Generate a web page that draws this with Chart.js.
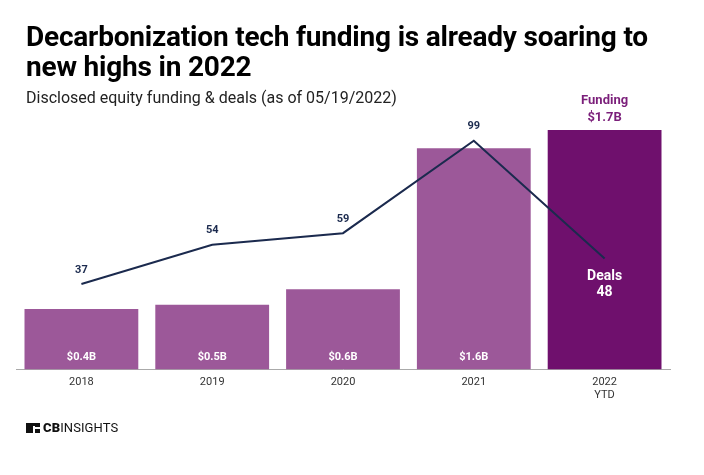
<!DOCTYPE html>
<html>
<head>
<meta charset="utf-8">
<script src="https://cdn.jsdelivr.net/npm/chart.js@4.4.1/dist/chart.umd.min.js"></script>
<style>
  html, body { margin: 0; padding: 0; background: #fff; }
  #wrap { position: relative; width: 704px; height: 475px; overflow: hidden; font-family: Roboto, "Noto Sans", sans-serif; }
  #c { position: absolute; left: 0; top: 0; }
  .title { position: absolute; left: 26px; top: 22px; font-size: 28px; font-weight: 700; color: #000; line-height: 30px; letter-spacing: -0.2px; }
  .sub { position: absolute; left: 26px; top: 88px; font-size: 16px; color: #222; }
  .logo { position: absolute; left: 26px; top: 421px; height: 13px; display: flex; align-items: center; }
  .icon { width: 14px; height: 10px; background: #111; position: relative; margin-right: 3px; }
  .icon:before { content: ""; position: absolute; left: 7px; top: 3px; width: 1.5px; height: 7px; background: #fff; }
  .icon:after { content: ""; position: absolute; left: 7px; top: 4.5px; width: 7px; height: 1.5px; background: #fff; }
  .logo span { font-size: 13px; color: #111; letter-spacing: 0.1px; }
</style>
</head>
<body>
<div id="wrap">
  <canvas id="c" width="704" height="475"></canvas>
  <div class="title">Decarbonization tech funding is already soaring to<br>new highs in 2022</div>
  <div class="sub">Disclosed equity funding &amp; deals (as of 05/19/2022)</div>
  <div class="logo"><div class="icon"></div><span style="font-weight:900">CB</span><span>INSIGHTS</span></div>
</div>
<script>
const categories = [["2018"], ["2019"], ["2020"], ["2021"], ["2022", "YTD"]];
const fundingValues = [0.43, 0.46, 0.57, 1.57, 1.70];   // $B
const fundingLabels = ["$0.4B", "$0.5B", "$0.6B", "$1.6B", "$1.7B"];
const dealValues = [37, 54, 59, 99, 48];
const barColors = ["#9c5899", "#9c5899", "#9c5899", "#9c5899", "#6f106d"];

const labelPlugin = {
  id: "labels",
  afterDatasetsDraw(chart) {
    const ctx = chart.ctx;
    const barMeta = chart.getDatasetMeta(1);
    const lineMeta = chart.getDatasetMeta(0);
    const base = chart.scales.y.getPixelForValue(0);
    ctx.save();
    ctx.textAlign = "center";
    ctx.textBaseline = "middle";
    barMeta.data.forEach((el, i) => {
      if (i < fundingLabels.length - 1) {
        ctx.font = "bold 11px Roboto";
        ctx.fillStyle = "#ffffff";
        ctx.fillText(fundingLabels[i], el.x, base - 12);
      } else {
        ctx.font = "bold 13px Roboto";
        ctx.fillStyle = "#7b1f7a";
        ctx.fillText("Funding", el.x, el.y - 29);
        ctx.fillText(fundingLabels[i], el.x, el.y - 12);
      }
    });
    lineMeta.data.forEach((el, i) => {
      if (i < dealValues.length - 1) {
        ctx.font = "bold 11px Roboto";
        ctx.fillStyle = "#1b2a4e";
        ctx.fillText(String(dealValues[i]), el.x, el.y - 14);
      } else {
        ctx.font = "bold 14px Roboto";
        ctx.fillStyle = "#ffffff";
        ctx.fillText("Deals", el.x, el.y + 18);
        ctx.fillText(String(dealValues[i]), el.x, el.y + 34);
      }
    });
    ctx.restore();
  }
};

new Chart(document.getElementById("c"), {
  data: {
    labels: categories,
    datasets: [
      {
        type: "line",
        label: "Deals",
        data: dealValues,
        yAxisID: "y1",
        borderColor: "#1b2a4e",
        borderWidth: 2,
        pointRadius: 0,
        tension: 0,
        order: 0
      },
      {
        type: "bar",
        label: "Funding",
        data: fundingValues,
        yAxisID: "y",
        backgroundColor: barColors,
        barPercentage: 0.87,
        categoryPercentage: 1.0,
        order: 1
      }
    ]
  },
  options: {
    responsive: false,
    animation: false,
    events: [],
    layout: { padding: { left: 16, right: 34, top: 100, bottom: 67 } },
    plugins: { legend: { display: false }, tooltip: { enabled: false }, title: { display: false } },
    scales: {
      x: {
        grid: { display: false, drawTicks: false },
        border: { display: true, color: "#aaaaaa", width: 1 },
        ticks: { color: "#333", font: { family: "Roboto", size: 11 }, padding: 6, maxRotation: 0 }
      },
      y: { display: false, min: 0, max: 1.913 },
      y1: { display: false, min: 0, max: 116.6 }
    }
  },
  plugins: [labelPlugin]
});
</script>
</body>
</html>
